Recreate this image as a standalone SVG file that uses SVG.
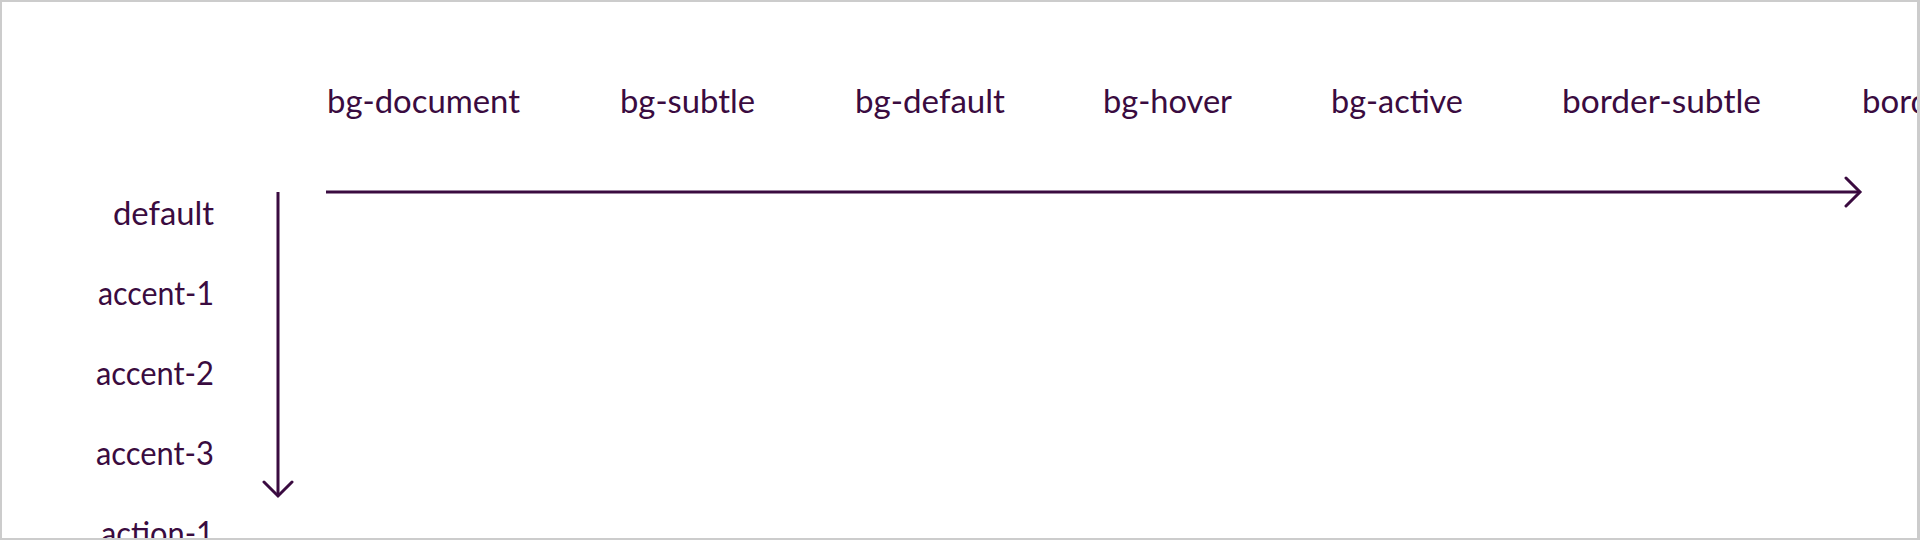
<svg xmlns="http://www.w3.org/2000/svg" width="1920" height="540" viewBox="0 0 1920 540">
<style>
.lbl{font-family:Lato,"Fira Sans","Open Sans",sans-serif;font-size:33px;fill:#3a0b40}
.row{text-anchor:end}
.axis{stroke:#3a0b40;stroke-width:3;fill:none}
</style>
<defs>
<marker id="chev" viewBox="-16 -16 20 32" refX="0" refY="0" markerWidth="20" markerHeight="32" markerUnits="userSpaceOnUse" orient="auto">
<path d="M-14,-14 L0,0 L-14,14" fill="none" stroke="#3a0b40" stroke-width="3" stroke-linecap="round" stroke-linejoin="miter"/>
</marker>
<clipPath id="frame"><rect x="0" y="0" width="1917" height="538"/></clipPath>
</defs>
<rect x="1" y="1" width="1918" height="538" fill="#fff" stroke="#cccccc" stroke-width="2"/>
<g clip-path="url(#frame)">
<g id="columns">
<g id="col-bg-document"><text class="lbl" x="327" y="113" textLength="193" lengthAdjust="spacingAndGlyphs">bg-document</text></g>
<g id="col-bg-subtle"><text class="lbl" x="620" y="113" textLength="135" lengthAdjust="spacingAndGlyphs">bg-subtle</text></g>
<g id="col-bg-default"><text class="lbl" x="855" y="113" textLength="150" lengthAdjust="spacingAndGlyphs">bg-default</text></g>
<g id="col-bg-hover"><text class="lbl" x="1103" y="113" textLength="129" lengthAdjust="spacingAndGlyphs">bg-hover</text></g>
<g id="col-bg-active"><text class="lbl" x="1331" y="113" textLength="132" lengthAdjust="spacingAndGlyphs">bg-active</text></g>
<g id="col-border-subtle"><text class="lbl" x="1562" y="113" textLength="199" lengthAdjust="spacingAndGlyphs">border-subtle</text></g>
<g id="col-border"><text class="lbl" x="1862" y="113">border</text></g>
</g>
<g id="rows">
<g id="row-default"><text class="lbl row" x="214" y="225" textLength="101" lengthAdjust="spacingAndGlyphs">default</text></g>
<g id="row-accent-1"><text class="lbl row" x="214" y="305" textLength="116" lengthAdjust="spacingAndGlyphs">accent-1</text></g>
<g id="row-accent-2"><text class="lbl row" x="214" y="385" textLength="118" lengthAdjust="spacingAndGlyphs">accent-2</text></g>
<g id="row-accent-3"><text class="lbl row" x="214" y="465" textLength="118" lengthAdjust="spacingAndGlyphs">accent-3</text></g>
<g id="row-action-1"><text class="lbl row" x="214" y="545" textLength="113" lengthAdjust="spacingAndGlyphs">action-1</text></g>
</g>
</g>
<g id="connectors">
<line class="axis" x1="326" y1="192" x2="1860" y2="192" marker-end="url(#chev)"/>
<line class="axis" x1="278" y1="192" x2="278" y2="496" marker-end="url(#chev)"/>
</g>
<rect x="1917" y="0" width="3" height="540" fill="#cccccc"/>
<rect x="0" y="538" width="1920" height="2" fill="#cccccc"/>
</svg>
